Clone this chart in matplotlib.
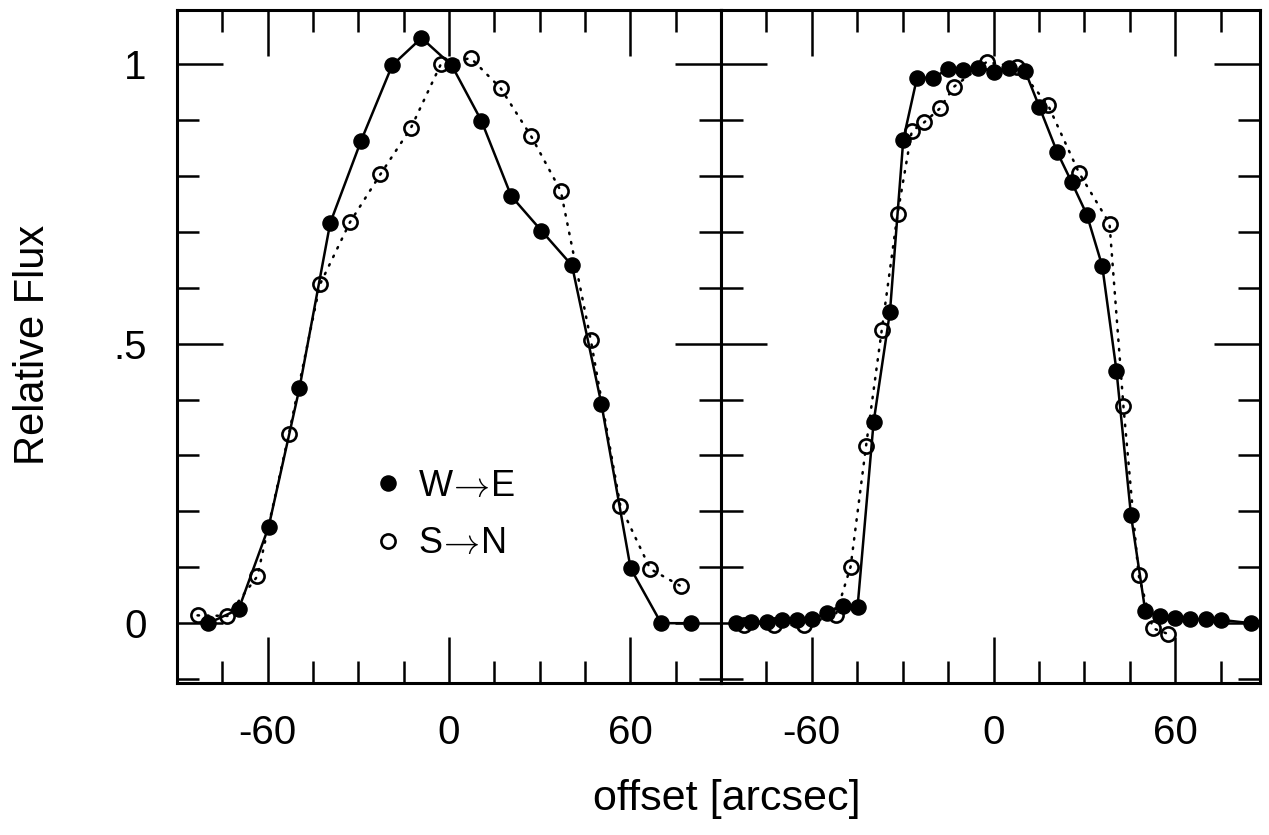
import matplotlib
matplotlib.use("Agg")
import matplotlib.pyplot as plt
from matplotlib.lines import Line2D
from matplotlib.ticker import MultipleLocator, FixedLocator

plt.rcParams['font.family'] = ['Liberation Sans', 'DejaVu Sans']
plt.rcParams['mathtext.fontset'] = 'cm'

# Left panel: broad profile
left_we_x = [-79.6, -69.6, -59.7, -49.5, -39.3, -29.1, -18.8, -9.1, 0.9, 10.7,
             20.6, 30.6, 40.7, 50.4, 60.1, 70.2, 80.1]
left_we_y = [0.000, 0.025, 0.172, 0.420, 0.716, 0.863, 0.998, 1.047, 0.998, 0.899,
             0.764, 0.702, 0.640, 0.393, 0.098, 0.000, 0.000]
left_sn_x = [-83.2, -73.3, -63.4, -53.0, -42.7, -32.8, -22.7, -12.6, -2.7, 7.2,
             17.1, 27.2, 37.0, 46.9, 56.7, 66.6, 76.8]
left_sn_y = [0.014, 0.013, 0.084, 0.338, 0.606, 0.717, 0.803, 0.886, 1.000, 1.011,
             0.957, 0.871, 0.773, 0.507, 0.210, 0.097, 0.066]

# Right panel: flat-topped profile
right_we_x = [-84.9, -80.0, -74.9, -70.0, -64.9, -60.1, -54.9, -49.8, -44.9, -39.6,
              -34.2, -29.8, -25.3, -20.1, -14.9, -10.0, -5.0, 0.0, 5.2, 10.5,
              15.1, 21.0, 25.8, 30.8, 35.9, 40.6, 45.4, 50.1, 55.0, 60.0,
              65.0, 70.2, 75.1, 85.0]
right_we_y = [0.001, 0.002, 0.003, 0.005, 0.006, 0.007, 0.018, 0.031, 0.029, 0.360,
              0.557, 0.865, 0.975, 0.976, 0.991, 0.990, 0.994, 0.986, 0.994, 0.987,
              0.924, 0.843, 0.789, 0.731, 0.639, 0.452, 0.193, 0.022, 0.012, 0.009,
              0.007, 0.007, 0.006, 0.000]
right_sn_x = [-82.4, -72.5, -62.6, -52.1, -47.2, -42.1, -36.9, -31.7, -27.0, -22.9,
              -17.7, -13.0, -2.3, 7.9, 18.0, 28.2, 38.3, 42.9, 47.9, 52.6, 57.5]
right_sn_y = [-0.003, -0.004, -0.003, 0.015, 0.101, 0.317, 0.525, 0.732, 0.880, 0.896,
              0.921, 0.960, 1.004, 0.995, 0.927, 0.806, 0.715, 0.388, 0.086, -0.009,
              -0.019]

x_tick_labels = ['-60', '0', '60']
y_tick_labels = ['0', '.5', '1']
legend_labels = ['W$\\!\\rightarrow\\!$E', 'S$\\!\\rightarrow\\!$N']

W, H = 1269, 835
AX_TOP, AX_BOT = 10, 683
fig = plt.figure(figsize=(W / 100, H / 100), dpi=100)
ax_l = fig.add_axes([177 / W, 1 - AX_BOT / H, 544 / W, (AX_BOT - AX_TOP) / H])
ax_r = fig.add_axes([721 / W, 1 - AX_BOT / H, 539 / W, (AX_BOT - AX_TOP) / H],
                    sharey=ax_l)

lw = 1.8
filled_style = dict(marker='o', ms=10.9, mfc='black', mec='black', mew=1.0)
open_style = dict(marker='o', ms=10.2, mfc='none', mec='black', mew=1.9)

for ax, wx, wy, sx, sy, xlim in [
    (ax_l, left_we_x, left_we_y, left_sn_x, left_sn_y, (-90, 90)),
    (ax_r, right_we_x, right_we_y, right_sn_x, right_sn_y, (-90, 88)),
]:
    ax.plot(sx, sy, color='black', lw=lw, linestyle=(0, (0.6, 3.2)),
            dash_capstyle='round', zorder=2, **open_style)
    ax.plot(wx, wy, color='black', lw=lw, linestyle='-', zorder=3,
            **filled_style)
    ax.set_xlim(*xlim)
    ax.set_ylim(-0.107, 1.097)
    ax.xaxis.set_major_locator(FixedLocator([-60, 0, 60]))
    ax.xaxis.set_minor_locator(MultipleLocator(15))
    ax.yaxis.set_major_locator(FixedLocator([0, 0.5, 1.0]))
    ax.yaxis.set_minor_locator(MultipleLocator(0.1))
    ax.set_xticklabels(x_tick_labels)
    ax.tick_params(which='both', direction='in', top=True, bottom=True,
                   left=True, right=True, width=1.8, color='black')
    ax.tick_params(which='major', length=33, labelsize=29, pad=22)
    ax.tick_params(which='minor', length=16)
    for sp in ax.spines.values():
        sp.set_linewidth(2.2)

ax_l.set_yticklabels(y_tick_labels)
ax_l.tick_params(axis='y', which='major', pad=22)
ax_r.tick_params(axis='y', labelleft=False)

handles = [
    Line2D([], [], linestyle='none', **filled_style),
    Line2D([], [], linestyle='none', **open_style),
]
ax_l.legend(handles, legend_labels, loc='center left',
            bbox_to_anchor=(0.357, 0.2496), frameon=False, fontsize=26,
            handletextpad=0.37, labelspacing=0.62, handlelength=0.92,
            borderpad=0, borderaxespad=0)

fig.text(33 / W, 1 - 345 / H, 'Relative Flux', rotation=90, fontsize=30,
         ha='center', va='center')
fig.text(727 / W, 1 - 799 / H, 'offset [arcsec]', fontsize=31,
         ha='center', va='center')

fig.savefig('out.png', dpi=100)
